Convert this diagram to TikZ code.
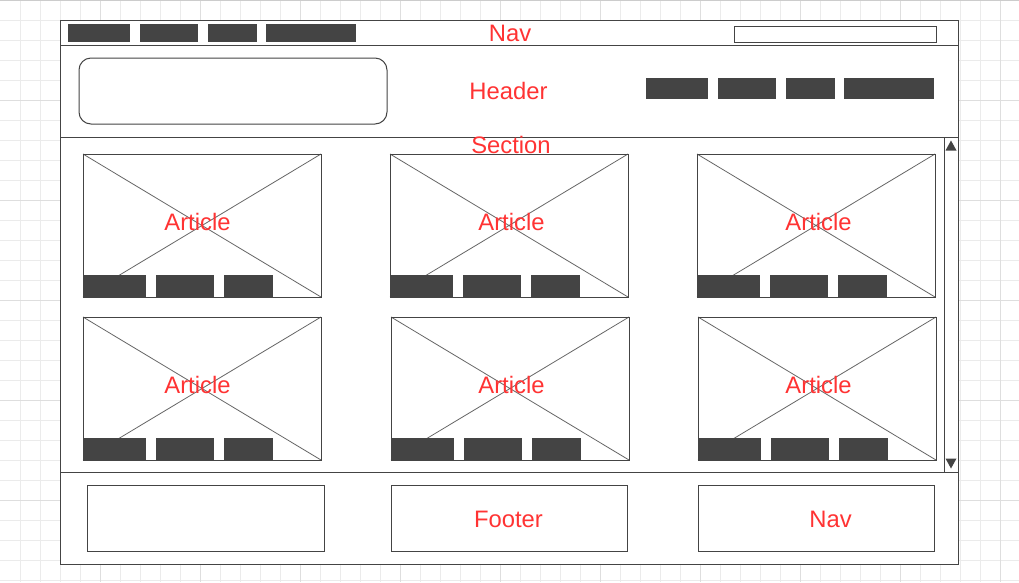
\documentclass[tikz,border=0pt]{standalone}
\usepackage{fontspec}
\setmainfont{Liberation Sans}
\definecolor{wire}{HTML}{444444}
\definecolor{crossline}{HTML}{666666}
\definecolor{redlabel}{HTML}{FF3333}
\definecolor{minorgrid}{HTML}{EBEBEB}
\definecolor{majorgrid}{HTML}{DEDEDE}
\tikzset{
  frame/.style={draw=wire, line width=1pt},
  label/.style={text=redlabel, font=\fontsize{23.8}{28}\selectfont, inner sep=0pt, anchor=base},
}
\begin{document}
\begin{tikzpicture}[x=1pt,y=-1pt]
            \useasboundingbox (0,0) rectangle (1019,582);
            \fill[white] (0,0) rectangle (1019,582);
            % background grid
            \foreach \x in {20,40,...,1000}
                \draw[minorgrid] (\x,0) -- (\x,582);
            \foreach \y in {20,40,...,580}
                \draw[minorgrid] (0,\y) -- (1019,\y);
            \foreach \x in {100,200,...,1000}
                \draw[majorgrid] (\x,0) -- (\x,582);
            \foreach \y in {100,200,...,500}
                \draw[majorgrid] (0,\y) -- (1019,\y);
            \draw[gray!40, line width=2pt] (0,0) -- (1019,0);
            % page frame
            \fill[white] (60,20) rectangle (958,564);
            \draw[frame] (60,20) rectangle (958,564);
            \draw[frame] (60,45) -- (958,45);
            \draw[frame] (60,137) -- (958,137);
            \draw[frame] (60,472) -- (958,472);
            % nav
            \foreach \a/\b in {68/130,140/198,208/257,266/356}
                \fill[wire] (\a,24) rectangle (\b,42);
            \draw[frame] (734,26) rectangle (936,42);
            % header
            \draw[frame, rounded corners=12pt] (79,58) rectangle (387,124);
            \foreach \a/\b in {646/708,718/776,786/835,844/934}
                \fill[wire] (\a,78) rectangle (\b,99);
            % scrollbar
            \draw[frame] (944,137) -- (944,472);
            \fill[wire] (951,140.5) -- (956.5,150.5) -- (945.5,150.5) -- cycle;
            \fill[wire] (951,468.5) -- (956.5,458.5) -- (945.5,458.5) -- cycle;
            % articles
            \foreach \x/\y in {83/154,390/154,697/154,83/317,391/317,698/317} {
                \draw[crossline, line width=0.8pt] (\x,\y) -- ++(238,143) (\x+238,\y) -- ++(-238,143);
                \draw[frame] (\x,\y) rectangle ++(238,143);
                \foreach \a/\b in {0/63,73/131,141/190}
                    \fill[wire] (\x+\a,\y+121) rectangle (\x+\b,\y+143);
            }
            % footer
            \foreach \a/\b in {87/324,391/627,698/934}
                \draw[frame] (\a,485) rectangle (\b,551);
            % labels
            \node[label] (navtop) at (510,41.5) {Nav};
            \node[label] (header) at (508.5,99.5) {Header};
            \node[label] (section) at (511,153.5) {Section};
            \node[label] (article1) at (197.5,230.5) {Article};
            \node[label] (article2) at (511.5,230.5) {Article};
            \node[label] (article3) at (818.5,230.5) {Article};
            \node[label] (article4) at (197.5,393.3) {Article};
            \node[label] (article5) at (511.5,393.3) {Article};
            \node[label] (article6) at (818.5,393.3) {Article};
            \node[label] (footer) at (508.5,527.3) {Footer};
            \node[label] (navfoot) at (830.5,527.3) {Nav};
        \end{tikzpicture}
\end{document}
